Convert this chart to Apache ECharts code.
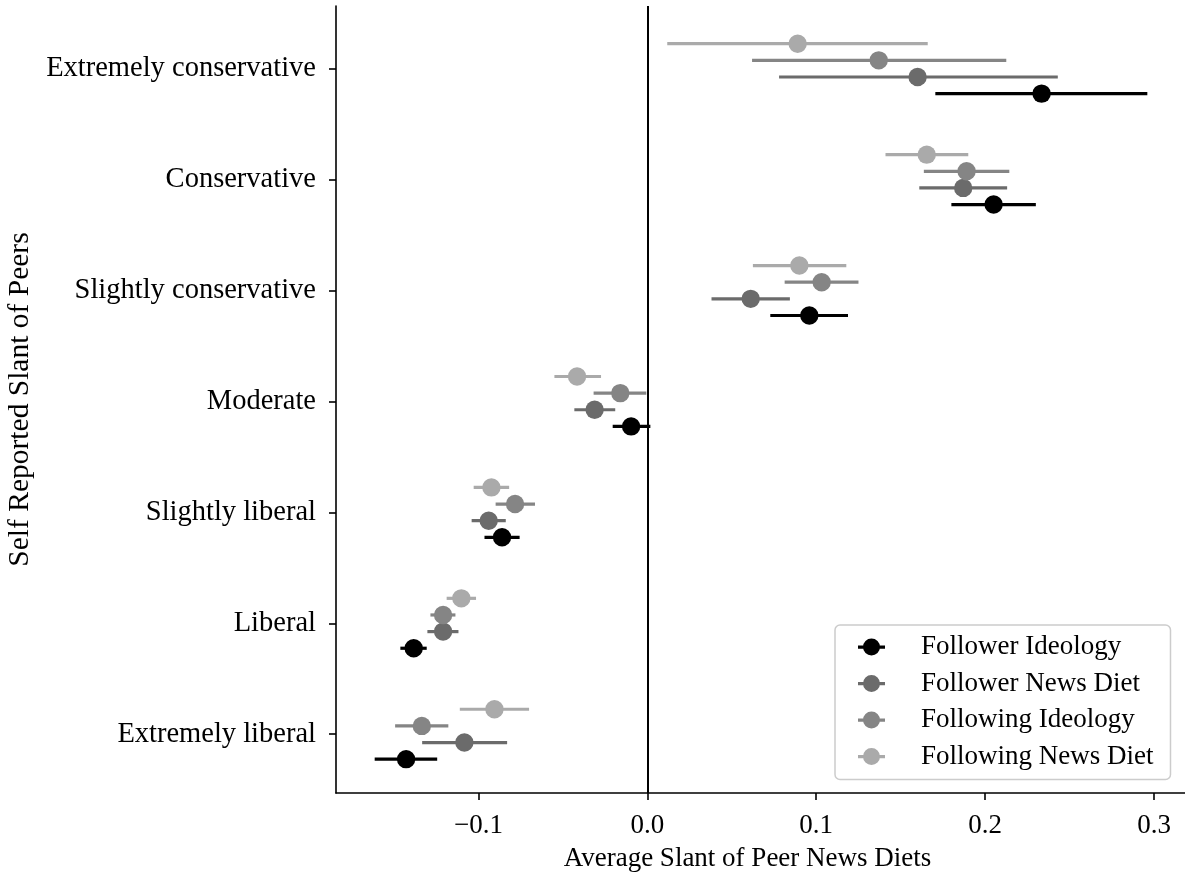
<!DOCTYPE html>
<html>
<head>
<meta charset="utf-8">
<script src="https://cdn.jsdelivr.net/npm/echarts@6/dist/echarts.min.js"></script>
<style>
html,body{margin:0;padding:0;background:#fff;}
#chart{width:1185px;height:876px;}
</style>
</head>
<body>
<div id="chart"></div>
<script>
// Categories, bottom to top
const categories = ['Extremely liberal','Liberal','Slightly liberal','Moderate','Slightly conservative','Conservative','Extremely conservative'];
const seriesNames = ['Follower Ideology','Follower News Diet','Following Ideology','Following News Diet'];
const xTicks = [-0.1, 0.0, 0.1, 0.2, 0.3];

// Means and 95% intervals, in category order (bottom to top)
const followerIdeologyMean = [-0.1428, -0.1383, -0.0860, -0.0096, 0.0959, 0.2050, 0.2334];
const followerIdeologyLow  = [-0.1614, -0.1462, -0.0964, -0.0205, 0.0728, 0.1800, 0.1705];
const followerIdeologyHigh = [-0.1244, -0.1306, -0.0756,  0.0018, 0.1188, 0.2300, 0.2960];

const followerNewsMean = [-0.1083, -0.1209, -0.0939, -0.0312, 0.0612, 0.1870, 0.1600];
const followerNewsLow  = [-0.1333, -0.1302, -0.1040, -0.0432, 0.0380, 0.1610, 0.0780];
const followerNewsHigh = [-0.0830, -0.1118, -0.0838, -0.0190, 0.0844, 0.2130, 0.2430];

const followingIdeologyMean = [-0.1335, -0.1209, -0.0783, -0.0160, 0.1032, 0.1890, 0.1370];
const followingIdeologyLow  = [-0.1493, -0.1284, -0.0898, -0.0318, 0.0813, 0.1637, 0.0620];
const followingIdeologyHigh = [-0.1178, -0.1136, -0.0665, -0.0006, 0.1250, 0.2143, 0.2125];

const followingNewsMean = [-0.0905, -0.1101, -0.0923, -0.0416, 0.0900, 0.1654, 0.0890];
const followingNewsLow  = [-0.1110, -0.1188, -0.1028, -0.0550, 0.0625, 0.1410, 0.0118];
const followingNewsHigh = [-0.0700, -0.1014, -0.0818, -0.0274, 0.1178, 0.1900, 0.1660];

// Layout / style (not data)
const colors = ['#000000', '#6b6b6b', '#858585', '#aaaaaa'];
const dodge = [-0.225, -0.075, 0.075, 0.225];
const FONT = '"Liberation Serif", "DejaVu Serif", serif';

const groups = [
  [followerIdeologyMean, followerIdeologyLow, followerIdeologyHigh],
  [followerNewsMean, followerNewsLow, followerNewsHigh],
  [followingIdeologyMean, followingIdeologyLow, followingIdeologyHigh],
  [followingNewsMean, followingNewsLow, followingNewsHigh]
];

const icon = 'path://M0,7 L27,7 L27,10.2 L0,10.2 Z M13.5,0 A8.5,8.5 0 1 1 13.49,0 Z';

function makeSeries(idx) {
  const [m, lo, hi] = groups[idx];
  const data = categories.map((c, i) => [m[i], lo[i], hi[i], i + dodge[idx]]);
  const color = colors[idx];
  const s = {
    type: 'custom',
    name: seriesNames[idx],
    itemStyle: { color: color },
    encode: { x: [0, 1, 2], y: 3 },
    data: data,
    z: 10 + idx,
    renderItem: function (params, api) {
      const yv = api.value(3);
      const p = api.coord([api.value(0), yv]);
      const a = api.coord([api.value(1), yv]);
      const b = api.coord([api.value(2), yv]);
      return {
        type: 'group',
        children: [
          { type: 'line', shape: { x1: a[0], y1: a[1], x2: b[0], y2: b[1] }, style: { stroke: color, lineWidth: 3.2 } },
          { type: 'circle', shape: { cx: p[0], cy: p[1], r: 9.2 }, style: { fill: color } }
        ]
      };
    }
  };
  if (idx === 0) {
    s.markLine = {
      silent: true,
      symbol: 'none',
      label: { show: false },
      lineStyle: { color: '#000', width: 2, type: 'solid' },
      data: [{ xAxis: 0 }]
    };
  }
  return s;
}

const chart = echarts.init(document.getElementById('chart'), null, { renderer: 'canvas' });
chart.setOption({
  animation: false,
  backgroundColor: '#fff',
  grid: { left: 336, right: 0, top: 6, bottom: 83, containLabel: false, outerBoundsMode: 'none' },
  xAxis: {
    type: 'value',
    min: -0.1843, max: 0.3183,
    splitLine: { show: false },
    axisLine: { show: true, onZero: false, lineStyle: { color: '#000', width: 1.6 } },
    axisTick: { show: true, customValues: xTicks, length: 7, lineStyle: { color: '#000', width: 1.6 } },
    axisLabel: {
      customValues: xTicks, margin: 19, color: '#000', fontFamily: FONT, fontSize: 27,
      formatter: v => (v < 0 ? '\u2212' : '') + Math.abs(v).toFixed(1)
    },
    name: 'Average Slant of Peer News Diets',
    nameLocation: 'middle', nameGap: 52,
    nameTextStyle: { color: '#000', fontFamily: FONT, fontSize: 27, padding: [0, 26, 0, 0] }
  },
  yAxis: {
    type: 'value',
    min: -0.53, max: 6.565,
    splitLine: { show: false },
    axisLine: { show: true, onZero: false, lineStyle: { color: '#000', width: 1.6 } },
    axisTick: { show: true, customValues: [0,1,2,3,4,5,6], length: 7, lineStyle: { color: '#000', width: 1.6 } },
    axisLabel: {
      customValues: [0,1,2,3,4,5,6], margin: 20, color: '#000', fontFamily: FONT, fontSize: 28.5,
      formatter: v => categories[Math.round(v)]
    },
    name: 'Self Reported Slant of Peers',
    nameLocation: 'middle', nameGap: 298, nameRotate: 90,
    nameTextStyle: { color: '#000', fontFamily: FONT, fontSize: 29.5 }
  },
  legend: {
    orient: 'vertical',
    left: 835, top: 625,
    padding: [7, 17, 8, 23],
    itemGap: 6.5,
    itemWidth: 27, itemHeight: 17,
    backgroundColor: 'rgba(255,255,255,0.8)',
    borderColor: '#cccccc', borderWidth: 1.5, borderRadius: 5,
    textStyle: { color: '#000', fontFamily: FONT, fontSize: 27, lineHeight: 30, padding: [0, 0, 0, 31] },
    data: seriesNames.map(n => ({ name: n, icon: icon }))
  },
  series: [0, 1, 2, 3].map(makeSeries)
});
</script>
</body>
</html>
